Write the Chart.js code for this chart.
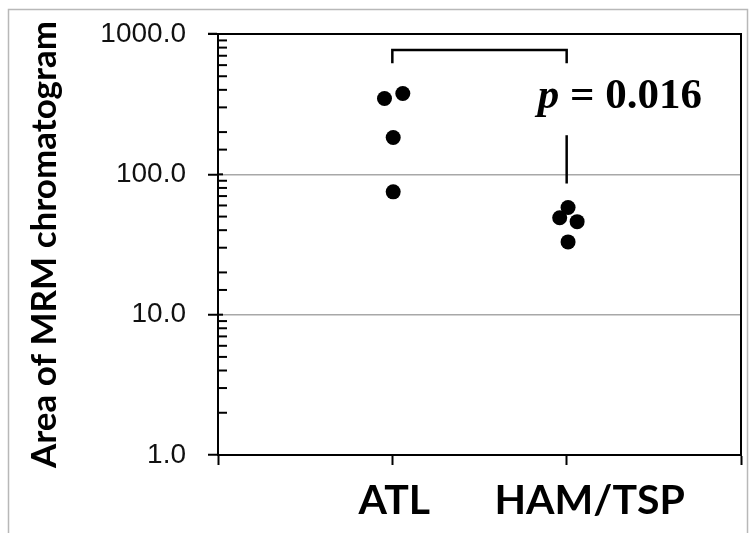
<!DOCTYPE html>
<html>
<head>
<meta charset="utf-8">
<script src="https://cdn.jsdelivr.net/npm/chart.js@4/dist/chart.umd.min.js"></script>
<style>
  html, body { margin: 0; padding: 0; background: #fff; }
  #wrap { width: 755px; height: 533px; }
</style>
</head>
<body>
<div id="wrap"><canvas id="myChart" width="755" height="533"></canvas></div>
<script>
// groups on the x axis (positions 1 and 2)
const groups = ['ATL', 'HAM/TSP'];
const atlValues = [347, 377, 183, 75];
const atlJitter = [-0.045, 0.06, 0.005, 0.005];
const hamValues = [58, 49, 46, 33];
const hamJitter = [0.008, -0.04, 0.06, 0.008];
const yTicks = [1, 10, 100, 1000];
const pText = ['p', ' = 0.016'];

// bracket / stem, in data units
const bracketTop = 770;
const bracketLeg = 620;
const stemTop = 190;
const stemBottom = 86;
const pBaseline = 296;
const labelShift = [2, 23];

const isMajor = v => Math.abs(Math.log10(v) - Math.round(Math.log10(v))) < 1e-9;

const decor = {
    id: 'decor',
    beforeDraw(chart) {
        const ctx = chart.ctx;
        ctx.save();
        ctx.fillStyle = '#fff';
        ctx.fillRect(0, 0, chart.width, chart.height);
        ctx.strokeStyle = '#b8b8b8';
        ctx.lineWidth = 1.5;
        ctx.strokeRect(8.5, 9.5, 739, 560);
        ctx.restore();
    },
    afterDraw(chart) {
        const { ctx, chartArea: a, scales: { x, y } } = chart;
        ctx.save();
        ctx.strokeStyle = '#000';
        ctx.lineWidth = 2;

        // top and right frame
        ctx.beginPath();
        ctx.moveTo(a.left - 10, a.top);
        ctx.lineTo(a.right, a.top);
        ctx.lineTo(a.right, a.bottom);
        ctx.stroke();

        // inner ticks on the y axis
        y.ticks.forEach(t => {
            const py = y.getPixelForValue(t.value);
            ctx.beginPath();
            ctx.moveTo(a.left, py);
            ctx.lineTo(a.left + (isMajor(t.value) ? 5 : 9), py);
            ctx.stroke();
        });

        // bracket between the groups
        const x1 = x.getPixelForValue(1);
        const x2 = x.getPixelForValue(2);
        const by = y.getPixelForValue(bracketTop);
        const bl = y.getPixelForValue(bracketLeg);
        ctx.lineWidth = 2.5;
        ctx.beginPath();
        ctx.moveTo(x1, bl);
        ctx.lineTo(x1, by);
        ctx.lineTo(x2, by);
        ctx.lineTo(x2, bl);
        ctx.stroke();
        ctx.beginPath();
        ctx.moveTo(x2, y.getPixelForValue(stemTop));
        ctx.lineTo(x2, y.getPixelForValue(stemBottom));
        ctx.stroke();

        // p value
        ctx.fillStyle = '#000';
        ctx.textBaseline = 'alphabetic';
        ctx.textAlign = 'left';
        let tx = x2 - 29;
        const ty = y.getPixelForValue(pBaseline);
        ctx.font = 'italic bold 43px "Liberation Serif"';
        ctx.fillText(pText[0], tx, ty);
        tx += ctx.measureText(pText[0]).width;
        ctx.font = 'bold 43px "Liberation Serif"';
        ctx.fillText(pText[1], tx, ty);

        // group labels
        ctx.font = 'bold 41px Lato';
        ctx.textAlign = 'center';
        groups.forEach((g, i) => {
            ctx.fillText(g, x.getPixelForValue(i + 1) + labelShift[i], 514);
        });
        ctx.restore();
    }
};

const ctx = document.getElementById('myChart');
new Chart(ctx, {
    type: 'scatter',
    data: {
        datasets: [{
            label: groups[0],
            data: atlValues.map((v, i) => ({ x: 1 + atlJitter[i], y: v })),
            backgroundColor: '#000',
            borderWidth: 0,
            pointRadius: 7.5
        }, {
            label: groups[1],
            data: hamValues.map((v, i) => ({ x: 2 + hamJitter[i], y: v })),
            backgroundColor: '#000',
            borderWidth: 0,
            pointRadius: 7.5
        }]
    },
    options: {
        responsive: false,
        animation: false,
        layout: { padding: { top: 34, right: 14, left: 0, bottom: 0 } },
        plugins: {
            legend: { display: false },
            tooltip: { enabled: false }
        },
        scales: {
            x: {
                type: 'linear',
                min: 0,
                max: 3,
                afterFit: s => { s.height = 78; },
                ticks: { stepSize: 1, display: false },
                grid: {
                    drawOnChartArea: false,
                    tickLength: 10,
                    tickColor: '#000',
                    tickWidth: 2
                },
                border: { color: '#000', width: 2 }
            },
            y: {
                type: 'logarithmic',
                min: 1,
                max: 1000,
                afterFit: s => {
                    s.width = 218;
                    s.paddingTop = 0;
                    s.paddingBottom = 0;
                },
                ticks: {
                    autoSkip: false,
                    padding: 22,
                    color: '#111',
                    font: { family: '"Liberation Sans"', size: 28 },
                    callback: v => isMajor(v) ? Number(v).toFixed(1) : ''
                },
                grid: {
                    tickLength: 10,
                    tickWidth: 2,
                    lineWidth: 1.5,
                    color: c => (c.tick && (c.tick.value === 10 || c.tick.value === 100)) ? '#a8a8a8' : 'rgba(0,0,0,0)',
                    tickColor: c => (c.tick && isMajor(c.tick.value)) ? '#000' : 'rgba(0,0,0,0)'
                },
                border: { color: '#000', width: 2 },
                title: {
                    display: true,
                    text: 'Area of MRM chromatogram',
                    color: '#000',
                    font: { family: 'Lato', weight: 'bold', size: 35 },
                    padding: { top: 24, bottom: 0 }
                }
            }
        }
    },
    plugins: [decor]
});
</script>
</body>
</html>
